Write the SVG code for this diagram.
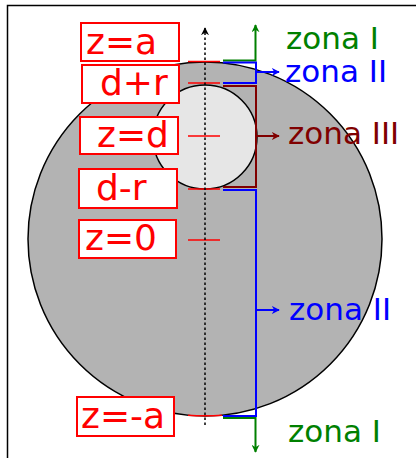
<svg xmlns="http://www.w3.org/2000/svg" width="416" height="458" viewBox="0 0 416 458">
<defs>
<style>
.lbl{fill:#fff;stroke:#ff0000;stroke-width:2}
.lt{font-family:"DejaVu Sans",sans-serif;font-size:36px;fill:#ff0000}
.zt{font-family:"DejaVu Sans",sans-serif;font-size:31px}
.tick{stroke:#ff0000;stroke-width:1.5;fill:none}
.br{fill:none;stroke-width:2}
</style>
<marker id="ag" viewBox="0 0 10 10" refX="9" refY="5" markerWidth="8" markerHeight="8" markerUnits="userSpaceOnUse" orient="auto"><path d="M0,0 L10,5 L0,10 L3,5 z" fill="#008000"/></marker>
<marker id="ab" viewBox="0 0 10 10" refX="9" refY="5" markerWidth="8" markerHeight="8" markerUnits="userSpaceOnUse" orient="auto"><path d="M0,0 L10,5 L0,10 L3,5 z" fill="#0000ff"/></marker>
<marker id="ar" viewBox="0 0 10 10" refX="9" refY="5" markerWidth="8" markerHeight="8" markerUnits="userSpaceOnUse" orient="auto"><path d="M0,0 L10,5 L0,10 L3,5 z" fill="#800000"/></marker>
<marker id="ak" viewBox="0 0 10 10" refX="9" refY="5" markerWidth="8" markerHeight="8" markerUnits="userSpaceOnUse" orient="auto"><path d="M0,0 L10,5 L0,10 L3,5 z" fill="#000"/></marker>
</defs>
<rect width="416" height="458" fill="#fff"/>
<path d="M7.5,458 V5.5 H416" fill="none" stroke="#000" stroke-width="1.5"/>
<g id="sphere">
<circle cx="205" cy="239" r="177" fill="#b3b3b3" stroke="#000" stroke-width="1.5"/>
</g>
<g id="cavity">
<circle cx="205" cy="137" r="52" fill="#e6e6e6" stroke="#000" stroke-width="1.5"/>
</g>
<g id="ticks">
<line class="tick" x1="188" y1="61.5" x2="220" y2="61.5"/>
<line class="tick" x1="188" y1="83" x2="220" y2="83"/>
<line class="tick" x1="188" y1="136" x2="220" y2="136"/>
<line class="tick" x1="188" y1="189" x2="220" y2="189"/>
<line class="tick" x1="188" y1="240" x2="220" y2="240"/>
<path class="tick" d="M188,415.2 Q205,416.5 222,415.2"/>
</g>
<g id="connectors">
<line x1="205" y1="425" x2="205" y2="28" stroke="#000" stroke-width="1.5" stroke-dasharray="2.5,2.5" marker-end="url(#ak)"/>
<path class="br" stroke="#008000" d="M223,60.5 H255.5 V25" marker-end="url(#ag)"/>
<path class="br" stroke="#0000ff" d="M223,62.5 H256 V83 H223"/>
<line class="br" stroke="#0000ff" x1="256" y1="72" x2="279" y2="72" marker-end="url(#ab)"/>
<path class="br" stroke="#800000" d="M223,86 H256 V187 H223"/>
<line class="br" stroke="#800000" x1="256" y1="136" x2="279" y2="136" marker-end="url(#ar)"/>
<path class="br" stroke="#0000ff" d="M223,190 H256 V416 H223"/>
<line class="br" stroke="#0000ff" x1="256" y1="310" x2="279" y2="310" marker-end="url(#ab)"/>
<path class="br" stroke="#008000" d="M223,418 H255.5 V452" marker-end="url(#ag)"/>
</g>
<g id="label-za"><rect class="lbl" x="81" y="23" width="98" height="38"/><text class="lt" x="86" y="54">z=a</text></g>
<g id="label-dpr"><rect class="lbl" x="82" y="65" width="97" height="38"/><text class="lt" x="100" y="95">d+r</text></g>
<g id="label-zd"><rect class="lbl" x="80" y="117" width="98" height="37"/><text class="lt" x="97" y="147">z=d</text></g>
<g id="label-dmr"><rect class="lbl" x="79" y="169" width="98" height="39"/><text class="lt" x="96" y="200">d-r</text></g>
<g id="label-z0"><rect class="lbl" x="79" y="220" width="97" height="38"/><text class="lt" x="85" y="250">z=0</text></g>
<g id="label-zma"><rect class="lbl" x="77" y="397" width="97" height="39"/><text class="lt" x="81" y="428">z=-a</text></g>
<g id="zona-I-top"><text class="zt" x="286" y="49" fill="#008000">zona I</text></g>
<g id="zona-II-top"><text class="zt" x="285" y="82" fill="#0000ff">zona II</text></g>
<g id="zona-III"><text class="zt" x="288" y="144" fill="#800000">zona III</text></g>
<g id="zona-II-bottom"><text class="zt" x="289" y="320" fill="#0000ff">zona II</text></g>
<g id="zona-I-bottom"><text class="zt" x="288" y="442" fill="#008000">zona I</text></g>
</svg>
